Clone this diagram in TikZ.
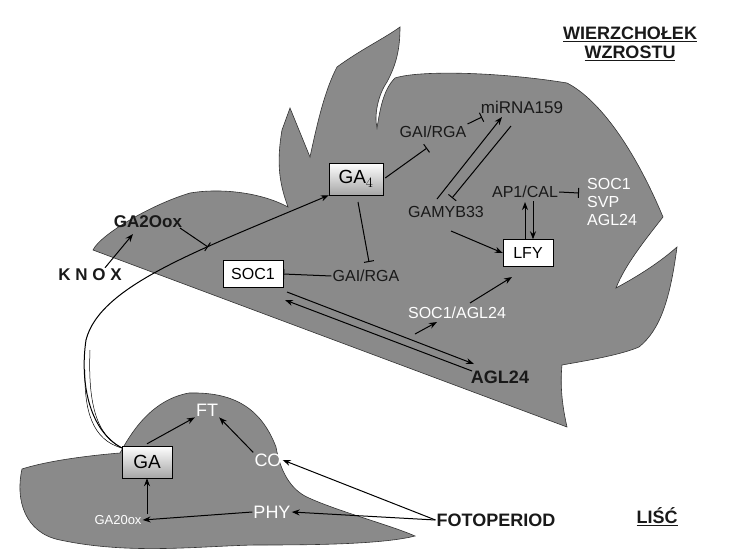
\documentclass[tikz,border=0pt]{standalone}
\usepackage{fontspec}
\setmainfont{Liberation Sans}
\usetikzlibrary{arrows.meta}
\definecolor{leaf}{RGB}{138,138,138}
\definecolor{txt}{RGB}{25,25,25}
\begin{document}
\begin{tikzpicture}[x=1pt,y=-1pt,
  organ/.style={fill=leaf,draw=black!80,line width=0.6pt},
  lbl/.style={font=\fontsize{16}{18}\selectfont,text=txt,inner sep=1pt},
  wlbl/.style={font=\fontsize{16}{18}\selectfont,text=white,inner sep=1pt},
  blbl/.style={font=\fontsize{18}{20}\selectfont\bfseries,text=txt,inner sep=1pt},
  box/.style={draw=black,fill=white,font=\fontsize{16}{18}\selectfont,minimum height=27pt,inner sep=3pt},
  gbox/.style={draw=black,font=\fontsize{19}{21}\selectfont,minimum height=32pt,inner sep=3pt,top color=white,bottom color=black!35},
  ar/.style={-{Stealth[length=8pt,width=6pt]},line width=1pt},
  br/.style={-{Bar[width=10pt]},line width=1pt}]
\useasboundingbox (0,0) rectangle (748,555);
% apex shape
\path[organ] (93,250) .. controls (100,235) and (150,205) .. (190,193)
  .. controls (220,188) and (260,192) .. (288,207)
  .. controls (280,185) and (276,165) .. (282,130) -- (290,108)
  -- (310,157) .. controls (318,120) and (325,90) .. (337,67)
  .. controls (360,50) and (385,38) .. (400,27)
  .. controls (400,50) and (396,65) .. (387,82)
  .. controls (378,95) and (374,115) .. (377,128)
  .. controls (380,110) and (383,90) .. (395,78)
  .. controls (420,70) and (500,72) .. (567,83)
  .. controls (600,100) and (635,150) .. (663,217)
  .. controls (645,240) and (625,265) .. (616,288)
  .. controls (640,275) and (660,262) .. (677,247)
  .. controls (670,300) and (660,330) .. (639,347)
  .. controls (620,355) and (590,360) .. (562,365)
  .. controls (560,385) and (562,405) .. (567,427)
  -- cycle;
% leaf shape
\path[organ] (22,469) .. controls (50,460) and (95,455) .. (120,453)
  .. controls (130,435) and (150,400) .. (189,393)
  .. controls (230,392) and (260,405) .. (276,447)
  .. controls (280,470) and (290,490) .. (309,498)
  .. controls (340,512) and (390,525) .. (415,536)
  .. controls (380,545) and (300,545) .. (255,545)
  .. controls (200,546) and (130,555) .. (60,540)
  .. controls (25,533) and (15,500) .. (22,469) -- cycle;
% titles
\node[font=\fontsize{18}{20}\selectfont\bfseries,text=txt,align=center] (t1) at (630,44) {\underline{WIERZCHOŁEK}\\[-1pt]\underline{WZROSTU}};
\node[blbl] (lisc) at (657,517) {\underline{LIŚĆ}};
% apex nodes
\node[gbox,minimum width=54pt] (ga4) at (356,179) {GA$_4$};
\node[box,minimum width=50pt] (lfy) at (528,253) {LFY};
\node[box,minimum width=60pt] (soc1) at (253,274) {SOC1};
\node[lbl] (gai1) at (433,132) {GAI/RGA};
\node[lbl,font=\fontsize{17}{19}\selectfont] (mir) at (522,107) {miRNA159};
\node[lbl] (gamyb) at (446,212) {GAMYB33};
\node[lbl] (ap1) at (525,192) {AP1/CAL};
\node[wlbl,align=left,anchor=west] (svp) at (586,202) {SOC1\\SVP\\AGL24};
\node[blbl,font=\fontsize{17}{19}\selectfont\bfseries] (ga2) at (148,222) {GA2Oox};
\node[blbl,font=\fontsize{17}{19}\selectfont\bfseries] (knox) at (90,275) {K N O X};
\node[lbl] (gai2) at (366,276) {GAI/RGA};
\node[wlbl] (socagl) at (457,313) {SOC1/AGL24};
\node[blbl] (agl) at (500,377) {AGL24};
% leaf nodes
\node[gbox,minimum width=50pt] (ga) at (147,462) {GA};
\node[wlbl,font=\fontsize{18}{20}\selectfont] (ft) at (207,410) {FT};
\node[wlbl,font=\fontsize{18}{20}\selectfont] (co) at (268,460) {CO};
\node[wlbl,font=\fontsize{13}{15}\selectfont] (ga20) at (118,520) {GA20ox};
\node[wlbl,font=\fontsize{18}{20}\selectfont] (phy) at (272,512) {PHY};
\node[blbl] (foto) at (496,520) {FOTOPERIOD};
% coordinates
\coordinate (g0) at (122,448);
% connectors
\draw[ar] (knox.north) ++(15,0) -- (133,234);
\draw[br] (180,228) -- (208,247);
\draw[ar] (g0) .. controls (88,430) and (80,380) .. (86,340)
   .. controls (100,285) and (200,250) .. (ga4.south west);
\draw[line width=0.5pt] (g0) .. controls (95,435) and (88,400) .. (90,350);
\draw[line width=0.5pt] (g0) .. controls (92,440) and (84,410) .. (85,370);
\draw[ar] (ga.north) ++(0,-2) -- (ft.south west);
\draw[ar] (co.north west) -- (ft.south east);
\draw[ar] (ga20.north -| ga) -- (ga.south);
\draw[ar] (phy.west) -- (ga20.east);
\draw[ar] (foto.west) -- (phy.east);
\draw[ar] (foto.west) -- (co.east);
\draw[br] (ga4.east) ++(2,-1) -- (427,148);
\draw[br] (gai1.east) ++(0,-8) -- (482,117);
\draw[ar] (437,199) -- (502,117);
\draw[br] (511,126) -- (452,198);
\draw[ar] (451,231) -- (lfy.west);
\draw[ar] (lfy.north) ++(-3,0) -- (525,202);
\draw[ar] (533,201) -- ([xshift=5pt]lfy.north);
\draw[br] (ap1.east) -- (579,193);
\draw[br] (358,202) -- (369,262);
\draw[br] (gai2.west) -- (soc1.east);
\draw[ar] (287,292) -- (474,364);
\draw[ar] (472,371) -- (285,300);
\draw[ar] (415,334) -- (437,322);
\draw[ar] (470,303) -- (512,277);
\end{tikzpicture}
\end{document}
